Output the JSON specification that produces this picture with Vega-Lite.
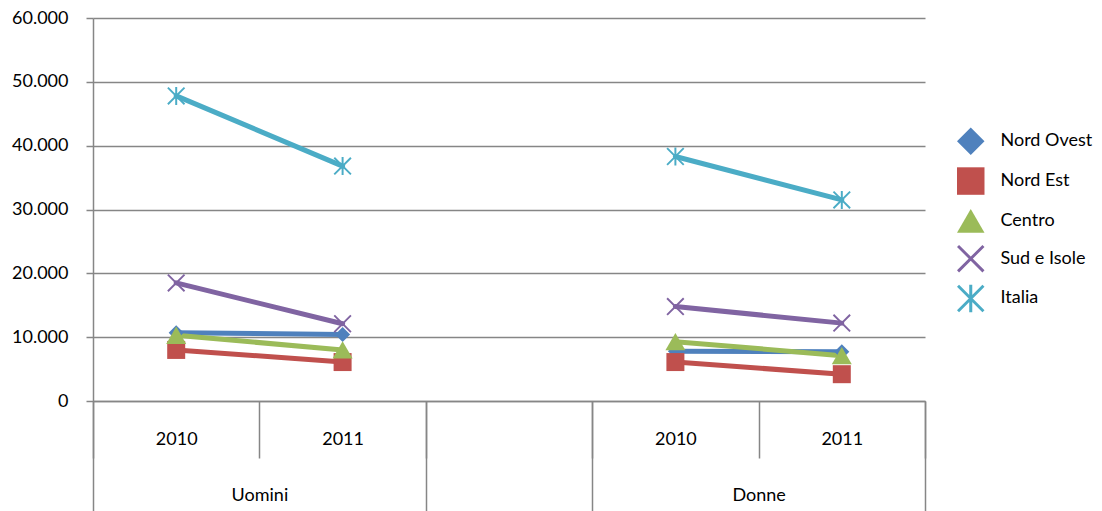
{
  "$schema": "https://vega.github.io/schema/vega-lite/v6.json",
  "width": 832,
  "height": 383,
  "autosize": {"type": "none"},
  "padding": {"left": 93, "top": 18, "right": 177, "bottom": 110},
  "background": "white",
  "config": {
    "view": {"stroke": null},
    "font": "Lato",
    "axis": {"labelFont": "Lato", "labelFontSize": 18, "labelColor": "#000000"}
  },
  "datasets": {
    "rows": [
      {"series": "Nord Ovest", "group": "Uomini", "cat": "U2010", "value": 10700},
      {"series": "Nord Ovest", "group": "Uomini", "cat": "U2011", "value": 10400},
      {"series": "Nord Ovest", "group": "Donne", "cat": "D2010", "value": 7800},
      {"series": "Nord Ovest", "group": "Donne", "cat": "D2011", "value": 7700},
      {"series": "Nord Est", "group": "Uomini", "cat": "U2010", "value": 8000},
      {"series": "Nord Est", "group": "Uomini", "cat": "U2011", "value": 6100},
      {"series": "Nord Est", "group": "Donne", "cat": "D2010", "value": 6100},
      {"series": "Nord Est", "group": "Donne", "cat": "D2011", "value": 4200},
      {"series": "Centro", "group": "Uomini", "cat": "U2010", "value": 10300},
      {"series": "Centro", "group": "Uomini", "cat": "U2011", "value": 8000},
      {"series": "Centro", "group": "Donne", "cat": "D2010", "value": 9300},
      {"series": "Centro", "group": "Donne", "cat": "D2011", "value": 7100},
      {"series": "Sud e Isole", "group": "Uomini", "cat": "U2010", "value": 18500},
      {"series": "Sud e Isole", "group": "Uomini", "cat": "U2011", "value": 12100},
      {"series": "Sud e Isole", "group": "Donne", "cat": "D2010", "value": 14800},
      {"series": "Sud e Isole", "group": "Donne", "cat": "D2011", "value": 12200},
      {"series": "Italia", "group": "Uomini", "cat": "U2010", "value": 47800},
      {"series": "Italia", "group": "Uomini", "cat": "U2011", "value": 36800},
      {"series": "Italia", "group": "Donne", "cat": "D2010", "value": 38300},
      {"series": "Italia", "group": "Donne", "cat": "D2011", "value": 31500}
    ],
    "groups": [
      {"group": "Uomini", "pos": 1},
      {"group": "Donne", "pos": 4}
    ]
  },
  "layer": [
    {
      "data": {"name": "groups"},
      "mark": {"type": "point", "opacity": 0},
      "encoding": {
        "x": {
          "field": "pos",
          "type": "quantitative",
          "scale": {"domain": [0, 5], "nice": false, "zero": false},
          "axis": {
            "orient": "bottom",
            "title": null,
            "values": [0, 1, 2, 3, 4, 5],
            "labelExpr": "datum.value == 1 ? 'Uomini' : datum.value == 4 ? 'Donne' : ''",
            "tickSize": 110,
            "tickColor": "#868686",
            "tickWidth": 1.5,
            "tickOpacity": {"condition": {"test": "datum.value == 1 || datum.value == 4", "value": 0}, "value": 1},
            "labelPadding": -16,
            "labelBaseline": "middle",
            "labelAngle": 0,
            "labelFlush": false,
            "labelOverlap": false,
            "domain": false,
            "grid": false
          }
        }
      }
    },
    {
      "data": {"name": "rows"},
      "encoding": {
        "x": {
          "field": "cat",
          "type": "nominal",
          "scale": {"type": "band", "domain": ["U2010", "U2011", "gap", "D2010", "D2011"], "paddingInner": 0, "paddingOuter": 0},
          "axis": {
            "orient": "bottom",
            "title": null,
            "tickBand": "extent",
            "tickSize": 57,
            "tickColor": "#868686",
            "tickWidth": 1.5,
            "domainColor": "#868686",
            "domainWidth": 1.5,
            "labelExpr": "datum.value == 'U2010' || datum.value == 'D2010' ? '2010' : datum.value == 'U2011' || datum.value == 'D2011' ? '2011' : ''",
            "labelPadding": -19,
            "labelBaseline": "middle",
            "labelAngle": 0,
            "grid": false
          }
        },
        "y": {
          "field": "value",
          "type": "quantitative",
          "scale": {"domain": [0, 60000], "nice": false},
          "axis": {
            "orient": "left",
            "title": null,
            "values": [0, 10000, 20000, 30000, 40000, 50000, 60000],
            "labelExpr": "replace(format(datum.value, ','), ',', '.')",
            "tickSize": 7,
            "tickColor": "#868686",
            "tickWidth": 1.5,
            "domainColor": "#868686",
            "domainWidth": 1.5,
            "gridColor": "#868686",
            "gridWidth": 1.5,
            "labelPadding": 18,
            "grid": true
          }
        }
      },
      "layer": [
        {
          "mark": {"type": "line", "strokeWidth": 5, "strokeCap": "round", "strokeJoin": "round"},
          "encoding": {
            "detail": {"field": "group", "type": "nominal"},
            "color": {
              "field": "series",
              "type": "nominal",
              "scale": {
                "domain": ["Nord Ovest", "Nord Est", "Centro", "Sud e Isole", "Italia"],
                "range": ["#4F81BD", "#C0504D", "#9BBB59", "#8064A2", "#4BACC6"]
              },
              "legend": {
                "title": null,
                "orient": "none",
                "legendX": 863.75,
                "legendY": 109.25,
                "padding": 0,
                "rowPadding": 11.8,
                "labelOffset": 15.75,
                "labelFont": "Lato",
                "labelFontSize": 18,
                "labelColor": "#000000",
                "labelLimit": 200,
                "symbolSize": 756,
                "symbolStrokeWidth": 0,
                "encode": {
                  "symbols": {
                    "update": {
                      "shape": {"signal": "datum.value === 'Nord Ovest' ? 'M-2,-0.16L2,-0.16L2,0.16L-2,0.16ZM0,-0.4L0.36,0L0,0.4L-0.36,0Z' : datum.value === 'Nord Est' ? 'M-2,-0.16L2,-0.16L2,0.16L-2,0.16ZM-0.4,-0.42L0.4,-0.42L0.4,0.42L-0.4,0.42Z' : datum.value === 'Centro' ? 'M-2,-0.16L2,-0.16L2,0.16L-2,0.16ZM0,-0.42L0.44,0.38L-0.44,0.38Z' : datum.value === 'Sud e Isole' ? 'M-2,-0.16L2,-0.16L2,0.16L-2,0.16ZM-0.32,-0.42L0.42,0.32L0.32,0.42L-0.42,-0.32ZM0.32,-0.42L0.42,-0.32L-0.32,0.42L-0.42,0.32Z' : 'M-2,-0.16L2,-0.16L2,0.16L-2,0.16ZM-0.32,-0.42L0.42,0.32L0.32,0.42L-0.42,-0.32ZM0.32,-0.42L0.42,-0.32L-0.32,0.42L-0.42,0.32ZM-0.06,-0.42L0.06,-0.42L0.06,0.42L-0.06,0.42Z'"},
                      "fill": {"scale": "color", "field": "value"},
                      "stroke": {"value": "transparent"},
                      "strokeWidth": {"value": 0},
                      "opacity": {"value": 1}
                    }
                  }
                }
              }
            }
          }
        },
        {
          "mark": {"type": "point", "filled": true, "opacity": 1, "strokeWidth": 0},
          "encoding": {
            "fill": {
              "field": "series",
              "type": "nominal",
              "scale": {
                "domain": ["Nord Ovest", "Nord Est", "Centro", "Sud e Isole", "Italia"],
                "range": ["#4F81BD", "#C0504D", "#9BBB59", "#8064A2", "#4BACC6"]
              },
              "legend": null
            },
            "shape": {
              "field": "series",
              "type": "nominal",
              "scale": {
                "domain": ["Nord Ovest", "Nord Est", "Centro", "Sud e Isole", "Italia"],
                "range": ["diamond", "square", "triangle-up", "M-0.85,-1L1,0.85L0.85,1L-1,-0.85ZM0.85,-1L1,-0.85L-0.85,1L-1,0.85Z", "M-0.85,-1L1,0.85L0.85,1L-1,-0.85ZM0.85,-1L1,-0.85L-0.85,1L-1,0.85ZM-0.11,-1L0.11,-1L0.11,1L-0.11,1Z"]
              },
              "legend": null
            },
            "size": {
              "condition": [
                {"test": "datum.series === 'Nord Ovest'", "value": 225},
                {"test": "datum.series === 'Centro'", "value": 400}
              ],
              "value": 324
            }
          }
        }
      ]
    }
  ],
  "resolve": {"scale": {"x": "independent"}, "axis": {"x": "independent"}}
}
